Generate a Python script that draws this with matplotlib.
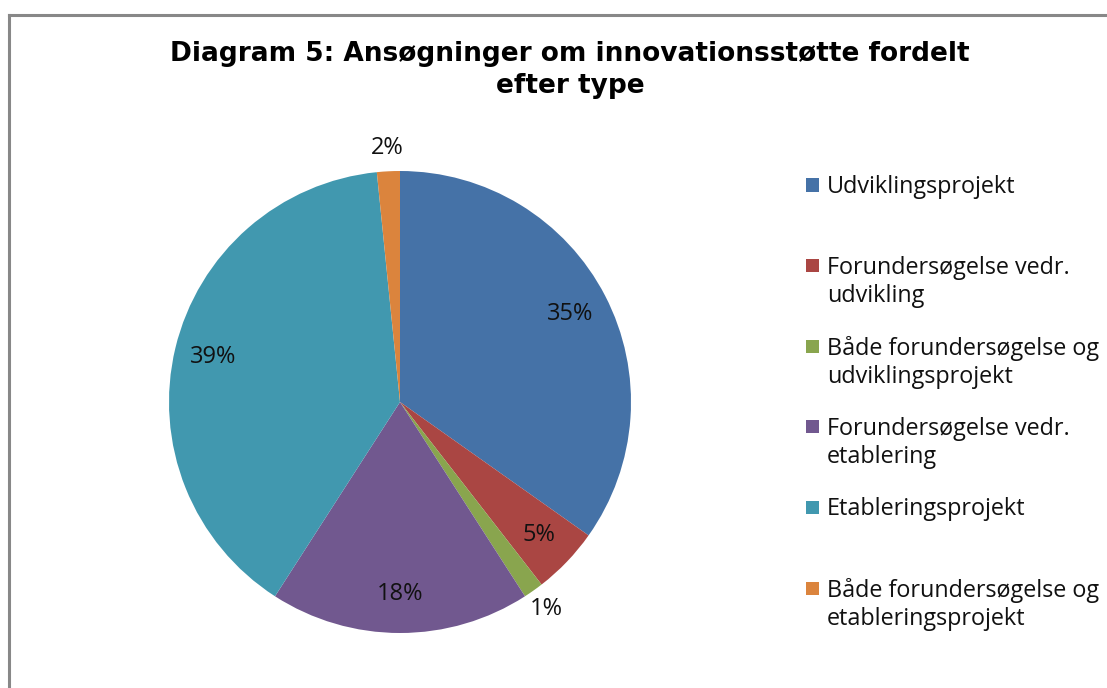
import matplotlib
matplotlib.use("Agg")
import matplotlib.pyplot as plt
from matplotlib.patches import Rectangle
from matplotlib.lines import Line2D
import numpy as np

categories = [
    "Udviklingsprojekt",
    "Forundersøgelse vedr.\nudvikling",
    "Både forundersøgelse og\nudviklingsprojekt",
    "Forundersøgelse vedr.\netablering",
    "Etableringsprojekt",
    "Både forundersøgelse og\netableringsprojekt",
]
values = [34.8, 4.7, 1.4, 18.2, 39.3, 1.6]
pct_labels = ["35%", "5%", "1%", "18%", "39%", "2%"]
colors = ["#4572A7", "#AA4643", "#89A54E", "#71588F", "#4198AF", "#DB843D"]
title = "Diagram 5: Ansøgninger om innovationsstøtte fordelt\nefter type"

W, H = 1107, 688
fig = plt.figure(figsize=(W / 100, H / 100), dpi=100)

# frame (gray border, left and top visible)
fig.add_artist(Line2D([9 / W, 9 / W], [0, 1 - 15 / H], color="#888888", lw=2.2,
                      transform=fig.transFigure))
fig.add_artist(Line2D([9 / W, 1], [1 - 15 / H, 1 - 15 / H], color="#888888", lw=2.2,
                      transform=fig.transFigure))

cx, cy, R = 400, 402, 231
ax = fig.add_axes([(cx - R) / W, (H - cy - R) / H, 2 * R / W, 2 * R / H])
wedges, _ = ax.pie(values, colors=colors, startangle=90, counterclock=False,
                   radius=1.0, wedgeprops=dict(linewidth=0))
ax.set_xlim(-1, 1)
ax.set_ylim(-1, 1)
ax.set_aspect("equal")
ax.axis("off")

for w, lab, v in zip(wedges, pct_labels, values):
    ang = np.deg2rad((w.theta1 + w.theta2) / 2)
    r = 0.83 if v > 3 else 1.1
    ax.text(r * np.cos(ang), r * np.sin(ang), lab, ha="center", va="center",
            fontsize=17, family="Open Sans", color="#111111", clip_on=False)

fig.text(570 / W, 1 - 70 / H, title, ha="center", va="center", fontsize=19,
         fontweight="bold", family="DejaVu Sans", linespacing=1.3)

# legend
slot_top = 185
slot = 80.6
for i, (lab, col) in enumerate(zip(categories, colors)):
    y = slot_top + i * slot
    fig.add_artist(Rectangle((806 / W, 1 - (y + 6.5) / H), 13 / W, 13 / H,
                             facecolor=col, edgecolor="none",
                             transform=fig.transFigure))
    fig.text(827 / W, 1 - (y - 10) / H, lab, ha="left", va="top", fontsize=16.8,
             family="Open Sans", color="#111111", linespacing=1.22)

fig.savefig("out.png", dpi=100)
